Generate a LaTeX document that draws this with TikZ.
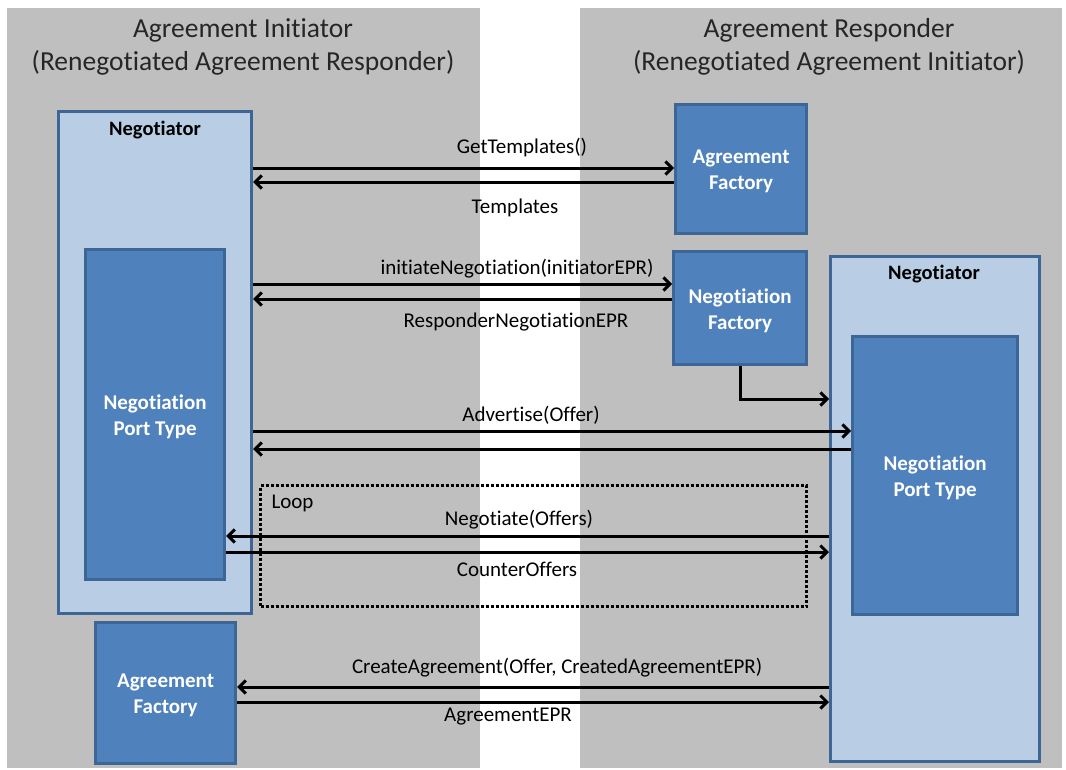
\documentclass[tikz,border=0pt]{standalone}
\usepackage{fontspec}
\setmainfont{Carlito}[Ligatures=NoCommon]
\usetikzlibrary{arrows.meta}
\definecolor{panel}{HTML}{BFBFBF}
\definecolor{lightfill}{HTML}{B9CDE5}
\definecolor{darkfill}{HTML}{4F81BD}
\definecolor{boxline}{HTML}{3D6596}
\tikzset{
  panelbox/.style={fill=panel, draw=none, anchor=north west, inner sep=0pt},
  outerbox/.style={fill=lightfill, draw=boxline, line width=3.2pt, anchor=north west, inner sep=0pt},
  innerbox/.style={fill=darkfill, draw=boxline, line width=3.2pt, anchor=north west, inner sep=0pt},
  titletext/.style={font=\fontsize{27.5}{33}\selectfont, align=center, text=black!85},
  boxtext/.style={font=\fontsize{21}{26}\selectfont\bfseries, text=white, align=center, yshift=-2.5pt},
  negtext/.style={font=\fontsize{20.5}{24}\selectfont\bfseries, text=black},
  msg/.style={font=\fontsize{21}{24}\selectfont, text=black},
  arr/.style={line width=3pt, -{Straight Barb[length=6.5pt,width=13pt,line width=3pt]}},
  loopbox/.style={draw=black, line width=3.2pt, dash pattern=on 3pt off 2pt, anchor=north west, inner sep=0pt}
}
\begin{document}
\begin{tikzpicture}[x=1pt,y=-1pt]
\useasboundingbox[fill=white] (0,0) rectangle (1066,769);
% panels
\node[panelbox, minimum width=473pt, minimum height=760pt] (lpanel) at (7,8) {};
\node[panelbox, minimum width=482pt, minimum height=760pt] (rpanel) at (580,8) {};
\node[titletext] (ltitle) at (243,47) {Agreement Initiator\\(Renegotiated Agreement Responder)};
\node[titletext] (rtitle) at (829,47) {Agreement Responder\\(Renegotiated Agreement Initiator)};
% left side
\node[outerbox, minimum width=193pt, minimum height=502pt] (lneg) at (57,110) {};
\node[negtext] (lnegt) at (155,130) {Negotiator};
\node[innerbox, minimum width=139pt, minimum height=330pt] (lport) at (84,248) {};
\node[boxtext] (lportt) at (lport.center) {Negotiation\\Port Type};
\node[innerbox, minimum width=140pt, minimum height=141pt] (laf) at (94,621) {};
\node[boxtext] (laft) at (laf.center) {Agreement\\Factory};
% right side
\node[innerbox, minimum width=131pt, minimum height=129pt] (raf) at (674,103) {};
\node[boxtext] (raft) at (raf.center) {Agreement\\Factory};
\node[innerbox, minimum width=133pt, minimum height=113pt] (rnf) at (672,250) {};
\node[boxtext] (rnft) at (rnf.center) {Negotiation\\Factory};
\node[outerbox, minimum width=209pt, minimum height=505pt] (rneg) at (829,255) {};
\node[negtext] (rnegt) at (934,274) {Negotiator};
\node[innerbox, minimum width=165pt, minimum height=278pt] (rport) at (851,335) {};
\node[boxtext] (rportt) at (rport.center) {Negotiation\\Port Type};
% loop
\node[loopbox, minimum width=546pt, minimum height=121pt] (loop) at (259,484) {};
\node[msg, anchor=west] (loopt) at (268,503) {Loop};
% messages
\draw[arr] (lneg.east |- 0,168) -- (raf.west |- 0,168);
\draw[arr] (raf.west |- 0,182) -- (lneg.east |- 0,182);
\node[msg] (m1) at (522,148) {GetTemplates()};
\node[msg] (m2) at (515,208) {Templates};
\draw[arr] (lneg.east |- 0,284) -- (rnf.west |- 0,284);
\draw[arr] (rnf.west |- 0,299) -- (lneg.east |- 0,299);
\node[msg] (m3) at (517,269) {initiateNegotiation(initiatorEPR)};
\node[msg] (m4) at (516,322) {ResponderNegotiationEPR};
\draw[arr] (rnf.south) -- (rnf.south |- 0,399) -- (rneg.west |- 0,399);
\draw[arr] (lneg.east |- 0,431) -- (rport.west |- 0,431);
\draw[arr] (rport.west |- 0,449) -- (lneg.east |- 0,449);
\node[msg] (m5) at (531,415) {Advertise(Offer)};
\draw[arr] (rneg.west |- 0,536) -- (lport.east |- 0,536);
\draw[arr] (lport.east |- 0,552) -- (rneg.west |- 0,552);
\node[msg] (m6) at (519,520) {Negotiate(Offers)};
\node[msg] (m7) at (517,569) {CounterOffers};
\draw[arr] (rneg.west |- 0,687) -- (laf.east |- 0,687);
\draw[arr] (laf.east |- 0,702) -- (rneg.west |- 0,702);
\node[msg] (m8) at (557,668) {CreateAgreement(Offer, CreatedAgreementEPR)};
\node[msg] (m9) at (508,717) {AgreementEPR};
\end{tikzpicture}
\end{document}
